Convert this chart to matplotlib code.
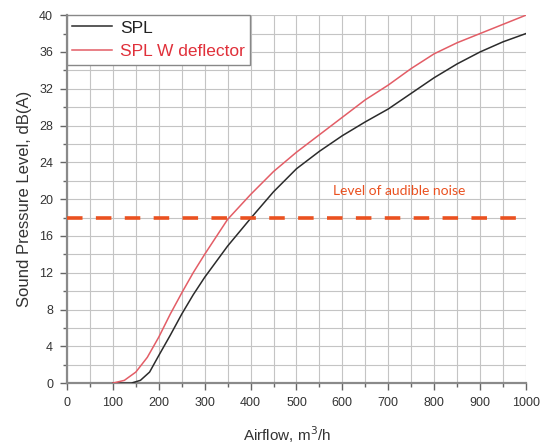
import matplotlib
matplotlib.use("Agg")
import matplotlib.pyplot as plt
from matplotlib.ticker import MultipleLocator

plt.rcParams['font.family'] = ['Liberation Sans', 'DejaVu Sans']

# Data
x_spl = [100, 140, 160, 180, 200, 225, 250, 275, 300, 350, 400, 450, 500, 550, 600, 650, 700, 750, 800, 850, 900, 950, 1000]
spl = [0, 0, 0.3, 1.2, 3.0, 5.2, 7.5, 9.6, 11.5, 14.9, 17.9, 20.8, 23.3, 25.2, 26.9, 28.4, 29.8, 31.5, 33.2, 34.7, 36.0, 37.1, 38.0]

x_def = [100, 125, 150, 175, 200, 225, 250, 275, 300, 350, 400, 450, 500, 550, 600, 650, 700, 750, 800, 850, 900, 950, 1000]
spl_def = [0, 0.3, 1.2, 2.8, 5.0, 7.5, 9.8, 12.0, 14.0, 17.8, 20.5, 23.0, 25.1, 27.0, 28.9, 30.8, 32.4, 34.2, 35.8, 37.0, 38.0, 39.0, 40.0]

threshold = 18
threshold_label = "Level of audible noise"
series_names = ["SPL", "SPL W deflector"]

fig = plt.figure(figsize=(5.49, 4.46), dpi=100)
ax = fig.add_axes([0.122, 0.141, 0.836, 0.825])

ax.plot(x_spl, spl, color='#2b2b2b', lw=1.1, label=series_names[0], zorder=3)
ax.plot(x_def, spl_def, color='#e35d66', lw=1.1, label=series_names[1], zorder=3)
ax.axhline(threshold, color='#ea5120', lw=2.6, dashes=(4.3, 3.7), zorder=4)
ax.text(580, 20.9, threshold_label, color='#ea5120', fontsize=10, va='center',
        family=['Lato', 'DejaVu Sans'])

ax.set_xlim(0, 1000)
ax.set_ylim(0, 40)
ax.xaxis.set_major_locator(MultipleLocator(100))
ax.xaxis.set_minor_locator(MultipleLocator(50))
ax.yaxis.set_major_locator(MultipleLocator(4))
ax.yaxis.set_minor_locator(MultipleLocator(2))
ax.grid(True, which='both', color='#c4c4c4', lw=0.8, zorder=0)
ax.set_axisbelow(True)
ax.tick_params(which='major', direction='out', length=5, width=1, color='#666666',
               labelsize=9, labelcolor='#333333', pad=5)
ax.tick_params(which='minor', direction='out', length=3, width=1, color='#666666')
for side in ['top', 'right']:
    ax.spines[side].set_visible(False)
for side in ['left', 'bottom']:
    ax.spines[side].set_color('#8a8a8a')
    ax.spines[side].set_linewidth(1.6)

ax.set_xlabel("Airflow, m$^3$/h", fontsize=11, color='#333333')
ax.xaxis.set_label_coords(0.479, -0.112)
ax.set_ylabel("Sound Pressure Level, dB(A)", fontsize=12, color='#333333')
ax.yaxis.set_label_coords(-0.076, 0.5)

leg = ax.legend(loc='upper left', bbox_to_anchor=(0.0, 1.0), fontsize=12.5,
                frameon=True, fancybox=False, shadow=False, borderaxespad=0.0,
                handlelength=2.3, handletextpad=0.45, borderpad=0.3, labelspacing=0.5)
leg.get_frame().set_edgecolor('#888888')
leg.get_frame().set_linewidth(1.0)
leg.get_frame().set_alpha(1)
leg.get_texts()[0].set_color('#222222')
leg.get_texts()[1].set_color('#e0303a')

fig.savefig("out.png", dpi=100)
